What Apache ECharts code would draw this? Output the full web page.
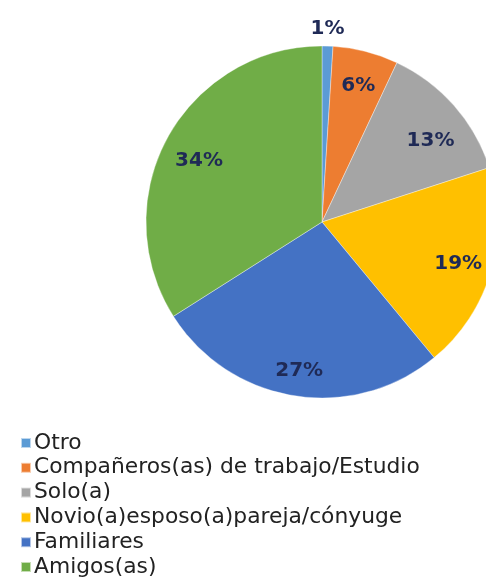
<!DOCTYPE html>
<html>
<head>
<meta charset="utf-8">
<script src="https://cdn.jsdelivr.net/npm/echarts@6/dist/echarts.min.js"></script>
<style>
  html, body { margin: 0; padding: 0; background: #fff; }
  #chart { width: 486px; height: 577px; }
</style>
</head>
<body>
<div id="chart"></div>
<script>
// datos del gráfico
const categorias = ['Otro', 'Compañeros(as) de trabajo/Estudio', 'Solo(a)', 'Novio(a)esposo(a)pareja/cónyuge', 'Familiares', 'Amigos(as)'];
const valores = [1, 6, 13, 19, 27, 34];
const colores = ['#5b9bd5', '#ed7d31', '#a5a5a5', '#ffc000', '#4472c4', '#70ad47'];

const datos = categorias.map((name, i) => ({
  name: name,
  value: valores[i],
  itemStyle: { color: colores[i] }
}));

// ajustes finos de posición de cada etiqueta
const desplazamientos = [[1, -54], [0, -2], [-1, 8], [-4, -6], [0, -2], [5, 2]];

// serie solo para las etiquetas (a ~0.8 del radio)
const datosEtiqueta = categorias.map((name, i) => ({
  name: name,
  value: valores[i],
  label: { offset: desplazamientos[i] }
}));

const chart = echarts.init(document.getElementById('chart'));
chart.setOption({
  animation: false,
  legend: {
    orient: 'vertical',
    left: 20,
    top: 432,
    height: 300,
    padding: 0,
    itemWidth: 10,
    itemHeight: 10,
    itemGap: 2.8,
    icon: 'rect',
    data: categorias,
    textStyle: {
      fontFamily: 'DejaVu Sans',
      fontSize: 21.8,
      color: '#222',
      padding: [0, 0, 0, -2]
    }
  },
  series: [
    {
      type: 'pie',
      center: [322, 222],
      radius: [0, 176],
      startAngle: 90,
      clockwise: true,
      label: { show: false },
      labelLine: { show: false },
      itemStyle: { borderColor: 'rgba(255,255,255,0.6)', borderWidth: 0.6 },
      data: datos
    },
    {
      type: 'pie',
      center: [322, 229],
      radius: [110, 176],
      startAngle: 90,
      clockwise: true,
      silent: true,
      legendHoverLink: false,
      itemStyle: { color: 'transparent' },
      labelLine: { show: false },
      label: {
        show: true,
        position: 'inside',
        formatter: '{c}%',
        fontFamily: 'DejaVu Sans',
        fontWeight: 'bold',
        fontSize: 20,
        color: '#1f2a56'
      },
      data: datosEtiqueta
    }
  ]
});
</script>
</body>
</html>
